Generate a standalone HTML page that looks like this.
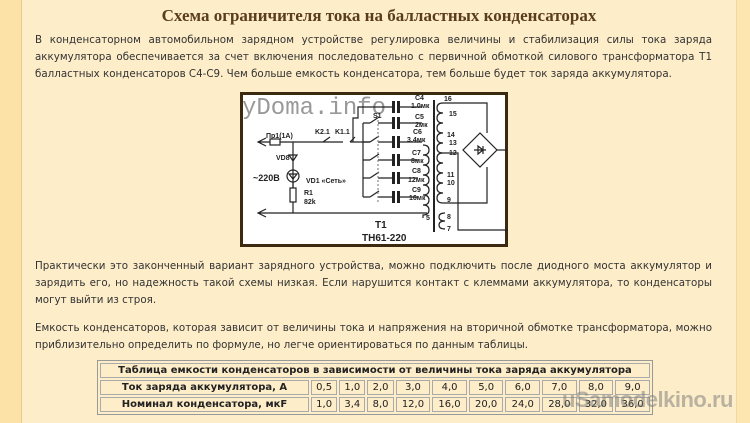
<!DOCTYPE html>
<html><head><meta charset="utf-8"><style>
*{margin:0;padding:0}
body{width:750px;height:423px;overflow:hidden;background:#fde6b0;font-family:"DejaVu Sans","Liberation Sans",sans-serif;position:relative}
#l{position:absolute;left:0;top:0;width:21px;height:423px;background:#fde2a8;border-right:1px solid #e8c98e}
#c{position:absolute;left:22px;top:0;width:714px;height:423px;background:#fdedc9;border-right:1px solid #f0d9a8}
h1{position:absolute;left:22px;width:714px;top:6px;text-align:center;font:bold 17px "Liberation Serif",serif;color:#5a3d1a}
p{position:absolute;left:35px;width:677px;font-size:10.3px;line-height:17px;color:#333;text-align:justify;text-align-last:left}
table{position:absolute;left:97px;top:360px;width:556px;border-collapse:separate;border-spacing:2px;border:1px solid #999;background:#fdedc9;font-size:10px;color:#222}
td{border:1px solid #aaa;height:13px;line-height:13px;padding:0 1px;text-align:center}
.wm{position:absolute;left:562px;top:387px;font:bold 22px "Liberation Sans",sans-serif;color:rgba(120,120,120,.5);letter-spacing:-0.5px}
</style></head><body>
<div id="l"></div><div id="c"></div>
<h1>Схема ограничителя тока на балластных конденсаторах</h1>
<p style="top:32px">В конденсаторном автомобильном зарядном устройстве регулировка величины и стабилизация силы тока заряда аккумулятора обеспечивается за счет включения последовательно с первичной обмоткой силового трансформатора Т1 балластных конденсаторов С4-С9. Чем больше емкость конденсатора, тем больше будет ток заряда аккумулятора.</p>
<svg style="position:absolute;left:240px;top:92px" width="268" height="155" viewBox="0 0 268 155">
<rect x="1.5" y="1.5" width="265" height="152" fill="#fff" stroke="#3b2a10" stroke-width="3"/>
<text x="2" y="22" font-family="Liberation Mono,monospace" font-size="24" fill="#999">yDoma.info</text>
<g stroke="#222" stroke-width="1.2" fill="none">
<path d="M18 50H103M26 54l-8-4 8-4"/>
<rect x="30" y="47" width="10" height="6" fill="#fff"/>
<path d="M53 50v71M53 58v5M49 63h8l-4 6z M53 69v9"/>
<circle cx="53" cy="84" r="6"/><path d="M49 82h8l-4 5z M53 90v6"/>
<rect x="50" y="96" width="6" height="14" fill="#fff"/>
<path d="M18 121H187M26 125l-8-4 8-4"/>
<path d="M83 50l7-5M110 50l5-5"/>
<path d="M113 50V26h5V15h35"/>
<path d="M110 50h20"/>
<path d="M123 31V105M123 31h7M123 68h7M123 86h7M123 105h7M123 50h7"/>
<path d="M130 31l9-6M130 50l9-6M130 68l9-6M130 86l9-6M130 105l9-6"/>
<path d="M138 31h15M138 50h15M138 68h15M138 86h15M138 105h15"/>
<path d="M138 20V110" stroke-dasharray="2 2" stroke="#888"/>
<path d="M160 15h22M160 31h22M160 50h22M160 68h18M160 86h18M160 105h18"/>
<path d="M183 53q6 0 6 5t-6 5q6 0 6 5t-6 5q6 0 6 5t-6 5q6 0 6 5t-6 5q6 0 6 5t-6 5q6 0 6 5t-6 5q6 0 6 5t-6 5v3"/>
<path d="M203 11q-6 0-6 5t6 5q-6 0-6 5t6 5q-6 0-6 5t6 5q-6 0-6 5t6 5q-6 0-6 5t6 5q-6 0-6 5t6 5q-6 0-6 5t6 5q-6 0-6 5t6 5q-6 0-6 5t6 5q-6 0-6 5t6 5"/>
<path d="M205 121q-6 0-6 4t6 4q-6 0-6 4t6 4"/>
<path d="M203 11h44v30M203 111h44V75M203 61h15v77h50"/>
<path d="M240 41l-17 17 17 17 17-17z"/><path d="M234 58h12M238 54v8l5-4zM243 54v8"/>
<path d="M257 58h10"/>
</g>
<g fill="#222">
<rect x="152" y="9" width="3" height="12"/><rect x="157" y="9" width="3" height="12"/>
<rect x="152" y="25" width="3" height="12"/><rect x="157" y="25" width="3" height="12"/>
<rect x="152" y="44" width="3" height="12"/><rect x="157" y="44" width="3" height="12"/>
<rect x="152" y="62" width="3" height="12"/><rect x="157" y="62" width="3" height="12"/>
<rect x="152" y="80" width="3" height="12"/><rect x="157" y="80" width="3" height="12"/>
<rect x="152" y="99" width="3" height="12"/><rect x="157" y="99" width="3" height="12"/>
<rect x="193" y="8" width="2" height="132"/></g>
<g font-family="Liberation Sans,sans-serif" font-size="7" font-weight="bold" fill="#222">
<text x="26" y="46">Пр1(1А)</text><text x="75" y="42">K2.1</text><text x="95" y="42">K1.1</text><text x="133" y="26">S1</text>
<text x="36" y="68">VD8</text><text x="13" y="89" font-size="9">~220В</text><text x="66" y="91">VD1 «Сеть»</text>
<text x="64" y="103">R1</text><text x="64" y="112">82k</text>
<text x="175" y="8">C4</text><text x="171" y="16">1.0мк</text><text x="175" y="27">C5</text><text x="175" y="35">2мк</text>
<text x="173" y="42">C6</text><text x="167" y="50">3.4мк</text><text x="172" y="63">C7</text><text x="171" y="71">8мк</text>
<text x="172" y="81">C8</text><text x="168" y="90">12мк</text><text x="172" y="100">C9</text><text x="169" y="108">16мк</text>
<text x="204" y="9">16</text><text x="209" y="24">15</text><text x="207" y="45">14</text><text x="209" y="53">13</text><text x="209" y="63">12</text>
<text x="207" y="85">11</text><text x="207" y="93">10</text><text x="207" y="110">9</text><text x="186" y="128">5</text><text x="207" y="127">8</text><text x="207" y="139">7</text>
<text x="135" y="136" font-size="10">T1</text><text x="122" y="149" font-size="10">ТН61-220</text>
</g>
</svg>
<p style="top:258px">Практически это законченный вариант зарядного устройства, можно подключить после диодного моста аккумулятор и зарядить его, но надежность такой схемы низкая. Если нарушится контакт с клеммами аккумулятора, то конденсаторы могут выйти из строя.</p>
<p style="top:320px">Емкость конденсаторов, которая зависит от величины тока и напряжения на вторичной обмотке трансформатора, можно приблизительно определить по формуле, но легче ориентироваться по данным таблицы.</p>
<table>
<tr><td colspan="11" style="font-weight:bold">Таблица емкости конденсаторов в зависимости от величины тока заряда аккумулятора</td></tr>
<tr><td style="font-weight:bold;width:205px">Ток заряда аккумулятора, А</td><td>0,5</td><td>1,0</td><td>2,0</td><td>3,0</td><td>4,0</td><td>5,0</td><td>6,0</td><td>7,0</td><td>8,0</td><td>9,0</td></tr>
<tr><td style="font-weight:bold">Номинал конденсатора, мкF</td><td>1,0</td><td>3,4</td><td>8,0</td><td>12,0</td><td>16,0</td><td>20,0</td><td>24,0</td><td>28,0</td><td>32,0</td><td>36,0</td></tr>
</table>
<div class="wm">uSamodelkino.ru</div>
</body></html>
